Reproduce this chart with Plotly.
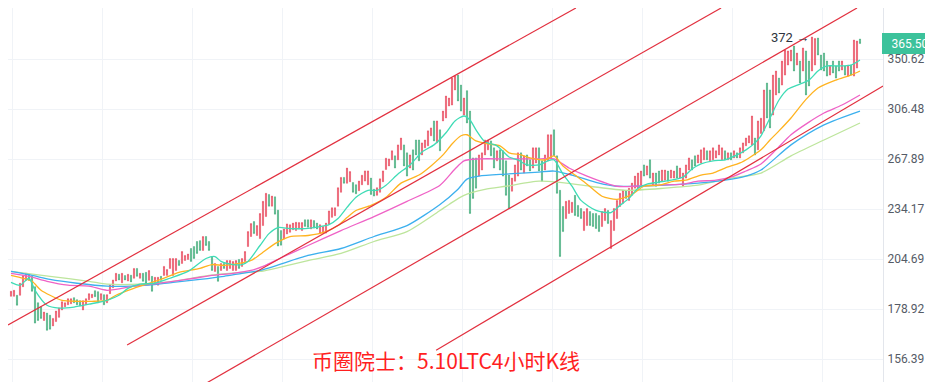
import numpy as np
import plotly.graph_objects as go

# ---------------- data (4h LTC candles) ----------------
opens = [
    185.2, 185.2, 185.7, 185.7, 190.0, 193.3, 196.4, 195.4, 190.0, 182.0,
    180.0, 173.5, 177.0, 176.0, 171.0, 173.0, 175.0, 178.5, 180.0, 181.0,
    181.5, 184.5, 183.5, 183.0, 178.5, 181.0, 183.5, 184.5, 188.0, 187.5,
    183.5, 186.0, 182.0, 186.5, 189.5, 193.0, 196.5, 192.0, 195.8, 193.0,
    196.0, 194.4, 199.6, 194.4, 197.0, 197.5, 193.3, 195.4, 191.8, 190.8,
    195.4, 195.9, 195.9, 199.6, 195.9, 198.5, 203.9, 202.3, 203.9, 204.5,
    210.6, 211.7, 214.6, 215.1, 209.5, 217.5, 214.6, 206.1, 198.0, 200.7,
    198.5, 202.3, 198.5, 199.6, 198.5, 198.5, 204.5, 200.7, 203.4, 211.7,
    217.5, 226.4, 218.1, 216.3, 224.0, 229.5, 243.5, 236.0, 242.0, 233.5,
    221.0, 216.0, 219.0, 220.0, 221.5, 221.0, 222.0, 221.0, 227.5, 227.5,
    222.0, 227.0, 225.5, 219.5, 219.5, 219.5, 225.0, 229.0, 230.0, 236.0,
    245.0, 255.0, 251.0, 252.0, 251.5, 250.0, 246.0, 250.0, 252.5, 250.0,
    254.5, 247.0, 243.0, 245.0, 252.0, 260.5, 263.0, 267.3, 270.2, 267.3,
    274.6, 278.3, 272.4, 261.5, 274.6, 282.0, 282.0, 270.9, 276.1, 277.6,
    285.2, 296.8, 279.8, 289.8, 296.8, 299.2, 309.0, 309.8, 322.6, 335.8,
    326.9, 301.6, 322.0, 304.8, 268.7, 268.7, 255.9, 260.1, 270.9, 274.6,
    281.3, 276.1, 266.6, 274.6, 273.9, 266.6, 256.6, 245.7, 252.4, 255.9,
    272.4, 258.0, 270.9, 267.3, 261.5, 265.1, 276.1, 266.6, 260.1, 266.6,
    268.7, 289.8, 270.2, 246.3, 235.8, 228.3, 231.4, 232.0, 243.0, 236.5,
    234.5, 221.0, 224.0, 232.6, 231.4, 231.4, 230.1, 223.4, 227.0, 233.3,
    210.6, 221.0, 228.3, 235.8, 237.8, 246.3, 239.7, 243.0, 247.7, 247.7,
    249.7, 263.7, 256.6, 267.3, 249.7, 258.0, 259.4, 252.4, 253.1, 259.4,
    254.5, 254.5, 263.0, 254.5, 249.0, 254.5, 260.1, 267.3, 270.2, 265.1,
    265.1, 267.3, 273.9, 266.6, 267.3, 268.7, 270.9, 267.3, 273.9, 267.3,
    272.4, 268.7, 272.4, 268.7, 272.4, 277.6, 279.8, 278.3, 283.5, 274.6,
    287.0, 289.0, 328.7, 322.6, 301.6, 318.3, 333.1, 326.9, 335.8, 345.0,
    348.7, 363.1, 345.0, 348.7, 339.5, 358.3, 348.7, 339.5, 345.0, 371.0,
    354.4, 356.3, 348.7, 335.8, 348.7, 344.1, 348.7, 340.4, 344.1, 334.9,
    345.0, 334.9, 342.2, 370.0,
]
closes = [
    187.7, 188.2, 180.8, 191.8, 195.9, 197.0, 193.3, 187.7, 172.3, 173.5,
    174.5, 177.5, 169.0, 169.5, 174.5, 178.0, 179.5, 182.5, 182.0, 184.0,
    184.0, 182.0, 181.0, 180.5, 183.0, 184.0, 186.5, 186.2, 185.0, 182.0,
    186.5, 181.0, 186.0, 191.0, 193.5, 197.0, 193.5, 197.0, 193.5, 196.5,
    192.5, 199.6, 195.4, 197.0, 192.8, 191.8, 198.5, 187.7, 194.9, 194.9,
    193.3, 200.7, 199.0, 205.0, 205.0, 205.0, 201.2, 208.9, 206.7, 207.5,
    203.4, 205.0, 207.8, 209.5, 217.5, 212.3, 209.5, 198.5, 202.3, 192.8,
    202.3, 199.6, 203.9, 203.9, 203.4, 203.9, 199.6, 205.0, 208.9, 220.4,
    225.2, 219.2, 224.0, 231.4, 239.1, 244.3, 236.0, 242.5, 231.0, 212.0,
    212.5, 222.0, 225.0, 224.5, 225.5, 226.0, 225.8, 225.8, 223.5, 223.0,
    227.5, 222.5, 222.0, 224.5, 223.5, 225.5, 233.0, 235.0, 235.0, 248.0,
    255.0, 251.0, 261.5, 259.0, 245.0, 244.0, 252.5, 256.5, 259.5, 259.5,
    243.5, 242.5, 248.0, 254.0, 259.5, 268.5, 268.0, 273.9, 261.5, 278.3,
    283.5, 263.0, 255.9, 270.9, 260.1, 270.9, 266.6, 279.8, 282.0, 289.0,
    291.3, 281.3, 296.8, 273.9, 304.8, 317.4, 315.7, 333.1, 334.9, 313.2,
    304.8, 315.7, 295.2, 231.4, 241.0, 247.7, 270.9, 272.4, 282.0, 282.0,
    270.2, 261.5, 273.9, 260.1, 255.9, 243.0, 234.5, 254.5, 263.7, 272.4,
    260.1, 270.2, 263.0, 259.4, 276.1, 276.1, 259.4, 252.4, 270.9, 286.0,
    286.0, 270.2, 244.3, 206.1, 220.4, 239.1, 239.7, 238.5, 230.1, 229.5,
    228.3, 232.6, 234.5, 224.0, 223.4, 222.2, 220.4, 232.6, 234.5, 225.2,
    227.0, 234.5, 239.7, 244.3, 246.3, 241.0, 247.7, 251.1, 255.9, 258.0,
    259.4, 255.9, 263.0, 254.5, 258.0, 249.0, 251.1, 260.1, 260.1, 252.4,
    260.1, 259.4, 254.5, 261.5, 258.0, 263.7, 268.7, 260.1, 263.0, 270.9,
    274.6, 276.1, 267.3, 273.9, 276.1, 273.9, 278.3, 276.1, 267.3, 272.4,
    267.3, 273.9, 268.7, 276.1, 279.8, 283.5, 285.2, 300.8, 270.9, 296.8,
    299.0, 322.6, 299.2, 291.3, 335.8, 339.5, 320.0, 348.7, 359.2, 358.3,
    359.2, 339.5, 356.3, 328.7, 361.2, 318.3, 326.1, 372.0, 370.5, 354.4,
    340.4, 339.5, 334.9, 344.1, 337.7, 333.1, 339.5, 348.7, 335.8, 345.0,
    335.8, 369.0, 368.0, 365.5,
]

# moving-average lines (candle index, price)
ma1_idx = [0, 3, 6, 8, 12, 16, 21, 26, 32, 36, 39, 43, 48, 53, 59, 65, 68, 70, 74, 77,
           79, 83, 86, 89, 93, 98, 103, 106, 109, 112, 115, 119, 122, 125, 129, 133, 137, 141, 145, 148,
           151, 153, 155, 158, 162, 166, 169, 172, 176, 179, 181, 184, 187, 190, 195, 200, 203, 206, 209, 212,
           216, 220, 224, 227, 230, 234, 238, 242, 245, 248, 250, 253, 256, 259, 263, 266, 269, 272, 276, 280, 283]
ma1_val = [192.3, 190.8, 194.4, 188.2, 180.8, 179.4, 179.9, 181.3, 183.2, 185.7, 189.2, 191.3, 191.8, 194.4, 198.0, 205.0, 206.1, 203.4, 201.7, 201.7,
           203.4, 212.3, 219.2, 222.8, 222.2, 222.2, 223.4, 224.6, 228.3, 235.2, 241.7, 246.3, 246.3, 249.7, 257.3, 263.7, 273.1, 278.3, 287.5, 296.8,
           300.8, 297.6, 289.8, 280.6, 277.6, 269.4, 267.3, 263.7, 263.7, 266.6, 267.3, 257.3, 249.0, 239.7, 233.3, 232.0, 236.5, 241.0, 247.7, 250.4,
           251.8, 253.1, 255.2, 260.8, 264.4, 266.6, 267.3, 270.9, 274.6, 279.8, 285.2, 299.2, 314.0, 323.4, 327.8, 331.3, 339.5, 344.1, 344.1, 345.0, 349.7]

ma2_idx = [0, 4, 7, 10, 13, 17, 22, 27, 32, 35, 40, 45, 50, 56, 63, 67, 71, 76, 80, 83,
           88, 93, 99, 105, 109, 112, 115, 120, 125, 130, 136, 140, 144, 147, 150, 152, 155, 159, 163, 166,
           170, 173, 178, 181, 184, 188, 192, 197, 202, 207, 211, 216, 221, 225, 230, 234, 238, 243, 246, 250,
           253, 256, 260, 265, 269, 275, 280, 283]
ma2_val = [195.9, 194.4, 192.8, 188.2, 185.7, 183.2, 182.7, 182.7, 183.2, 185.7, 188.7, 191.3, 193.8, 197.5, 199.6, 201.7, 201.2, 202.3, 203.9, 207.2,
           213.4, 217.5, 218.1, 220.4, 224.0, 228.9, 233.3, 236.5, 241.7, 251.1, 256.6, 263.0, 270.9, 279.0, 285.2, 286.0, 281.3, 279.0, 277.6, 272.4,
           270.9, 268.7, 267.3, 270.2, 263.0, 256.6, 250.4, 242.4, 240.4, 243.6, 249.0, 249.7, 252.4, 253.1, 256.6, 258.0, 261.5, 265.1, 268.7, 274.6,
           282.0, 289.0, 299.2, 314.5, 324.3, 331.3, 335.8, 339.5]

ma3_idx = [0, 6, 12, 19, 26, 32, 41, 47, 54, 61, 67, 74, 80, 84, 91, 99, 110, 121, 132, 143,
           148, 151, 156, 165, 176, 181, 186, 192, 202, 208, 214, 224, 229, 235, 241, 245, 250, 255, 260, 266,
           271, 277, 283]
ma3_val = [197.0, 195.4, 192.8, 190.8, 190.3, 188.2, 190.3, 191.3, 192.8, 194.4, 195.9, 197.0, 198.5, 200.7, 206.1, 212.3, 221.0, 229.5, 239.1, 249.7,
           260.8, 266.6, 268.0, 268.0, 268.0, 268.0, 261.5, 255.9, 249.0, 249.0, 249.7, 250.4, 252.4, 253.1, 255.9, 259.4, 264.4, 274.6, 286.0, 295.9,
           303.2, 309.8, 318.3]

ma4_idx = [0, 7, 13, 22, 32, 40, 46, 54, 63, 71, 77, 83, 99, 110, 121, 132, 143, 149, 152, 156,
           165, 176, 181, 187, 196, 202, 208, 218, 229, 238, 245, 250, 260, 271, 283]
ma4_val = [198.0, 195.9, 193.8, 191.8, 190.3, 190.3, 190.8, 192.3, 193.8, 195.4, 197.0, 198.5, 206.7, 210.6, 217.5, 224.0, 237.1, 247.0, 253.8, 255.9,
           257.3, 258.7, 259.4, 256.6, 251.1, 249.0, 249.0, 249.7, 251.1, 253.1, 255.9, 260.1, 278.3, 293.7, 304.8]

ma5_idx = [0, 13, 26, 32, 43, 54, 66, 77, 83, 99, 110, 121, 132, 143, 146, 151, 158, 165, 176, 182,
           193, 205, 218, 229, 240, 250, 260, 271, 283]
ma5_val = [198.0, 195.4, 192.8, 191.3, 191.3, 192.8, 195.9, 197.5, 198.0, 203.9, 207.8, 214.6, 220.4, 233.3, 237.1, 243.0, 246.9, 249.0, 252.4, 251.8,
           249.0, 246.3, 247.7, 249.7, 254.5, 258.0, 270.2, 282.0, 295.2]

# hand-drawn channel lines: start / end (candle index, price)
chan_x0 = [-1.0, 38.7, 62.3, 141.7]
chan_p0 = [171.4, 162.4, 144.7, 160.2]
chan_x1 = [188.3, 236.7, 282.0, 290.7]
chan_p1 = [402.2, 402.2, 402.2, 326.0]

tick_vals = [156.39, 178.92, 204.69, 234.17, 267.89, 306.48, 350.62]
tick_text = ["156.39", "178.92", "204.69", "234.17", "267.89", "306.48", "350.62"]
y_range = [144.7, 402.2]
x_range = [-1.0, 290.67]
title_text = "币圈院士：5.10LTC4小时K线"

# ---------------- figure ----------------
idx = list(range(len(opens)))
highs = np.maximum(opens, closes)
lows = np.minimum(opens, closes)

UP = "#e8475a"
DOWN = "#3fab78"

fig = go.Figure()
fig.add_trace(go.Candlestick(
    x=idx, open=opens, high=highs, low=lows, close=closes,
    increasing=dict(line=dict(color=UP, width=0.5), fillcolor=UP),
    decreasing=dict(line=dict(color=DOWN, width=0.5), fillcolor=DOWN),
    whiskerwidth=0, showlegend=False, hoverinfo="skip",
))

ma_specs = [
    (ma5_idx, ma5_val, "#bde59c"),
    (ma4_idx, ma4_val, "#3cb0ee"),
    (ma3_idx, ma3_val, "#ef62c6"),
    (ma2_idx, ma2_val, "#ffb320"),
    (ma1_idx, ma1_val, "#3fdcb6"),
]
for xs, ys, col in ma_specs:
    fig.add_trace(go.Scatter(
        x=xs, y=ys, mode="lines",
        line=dict(color=col, width=1.3, shape="spline", smoothing=0.7),
        showlegend=False, hoverinfo="skip",
    ))

for a, b, c, d in zip(chan_x0, chan_p0, chan_x1, chan_p1):
    fig.add_trace(go.Scatter(
        x=[a, c], y=[b, d], mode="lines",
        line=dict(color="#e2303f", width=1.2),
        showlegend=False, hoverinfo="skip",
    ))

imax = int(np.argmax(highs))
hmax = float(highs[imax])
last = closes[-1]

fig.update_layout(
    width=933, height=382,
    margin=dict(l=0, r=58, t=0, b=2),
    paper_bgcolor="white", plot_bgcolor="white",
    boxgap=0.45,
    xaxis=dict(
        range=x_range, rangeslider=dict(visible=False),
        showticklabels=False, ticks="",
        tick0=0.4, dtick=30, showgrid=True, gridcolor="#f0f3f7", gridwidth=1,
        zeroline=False, showline=True, linecolor="#e3e6ec", linewidth=1,
    ),
    yaxis=dict(
        type="log", side="right",
        range=[np.log10(y_range[0]), np.log10(y_range[1])],
        tickvals=tick_vals, ticktext=tick_text,
        showgrid=True, gridcolor="#f0f3f7", gridwidth=1,
        zeroline=False, showline=True, linecolor="#e3e6ec", linewidth=1,
        ticks="", ticklabelstandoff=1,
        tickfont=dict(family="Roboto", size=12, color="#555b66"),
    ),
    annotations=[
        dict(
            x=imax, y=np.log10(hmax), xref="x", yref="y",
            text=f"{hmax:.0f} →", showarrow=False,
            xanchor="right", yanchor="middle", xshift=-1,
            font=dict(family="Roboto", size=13, color="#2f3440"),
        ),
        dict(
            x=1.0, y=np.log10(last), xref="paper", yref="y",
            text=f"{last:.2f}", showarrow=False,
            xanchor="left", yanchor="middle", align="center",
            bgcolor="#3cc29b", width=52, height=17, borderpad=2, borderwidth=0,
            xshift=-1,
            font=dict(family="Roboto", size=12, color="white"),
        ),
        dict(
            x=438 / 875, y=0.075, xref="paper", yref="paper",
            text=title_text, showarrow=False,
            xanchor="center", yanchor="middle",
            font=dict(family="Noto Sans CJK SC", size=21, color="#ff1f1f"),
        ),
    ],
)

fig.write_html("out.html")
